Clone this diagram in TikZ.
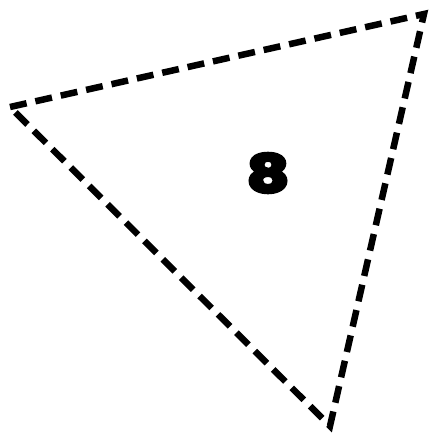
\documentclass[tikz,border=0pt]{standalone}
\usepackage{fontspec}
\newfontfamily\eightfont[FakeBold=6]{Poppins Bold}
\begin{document}
\begin{tikzpicture}[x=1pt,y=-1pt,
  tri/.style={draw=black,line width=6.5pt,dash pattern=on 17pt off 9pt,line join=miter},
  lbl/.style={font=\eightfont\fontsize{52}{52}\selectfont,inner sep=0pt,xscale=1.25}]
\useasboundingbox (0,0) rectangle (431,436);
\coordinate (A) at (10,107);
\coordinate (B) at (424,14);
\coordinate (C) at (330,426);
\draw[tri] (A) -- (B) -- (C) -- cycle;
\node[lbl] (n) at (268,173) {8};
\end{tikzpicture}
\end{document}
